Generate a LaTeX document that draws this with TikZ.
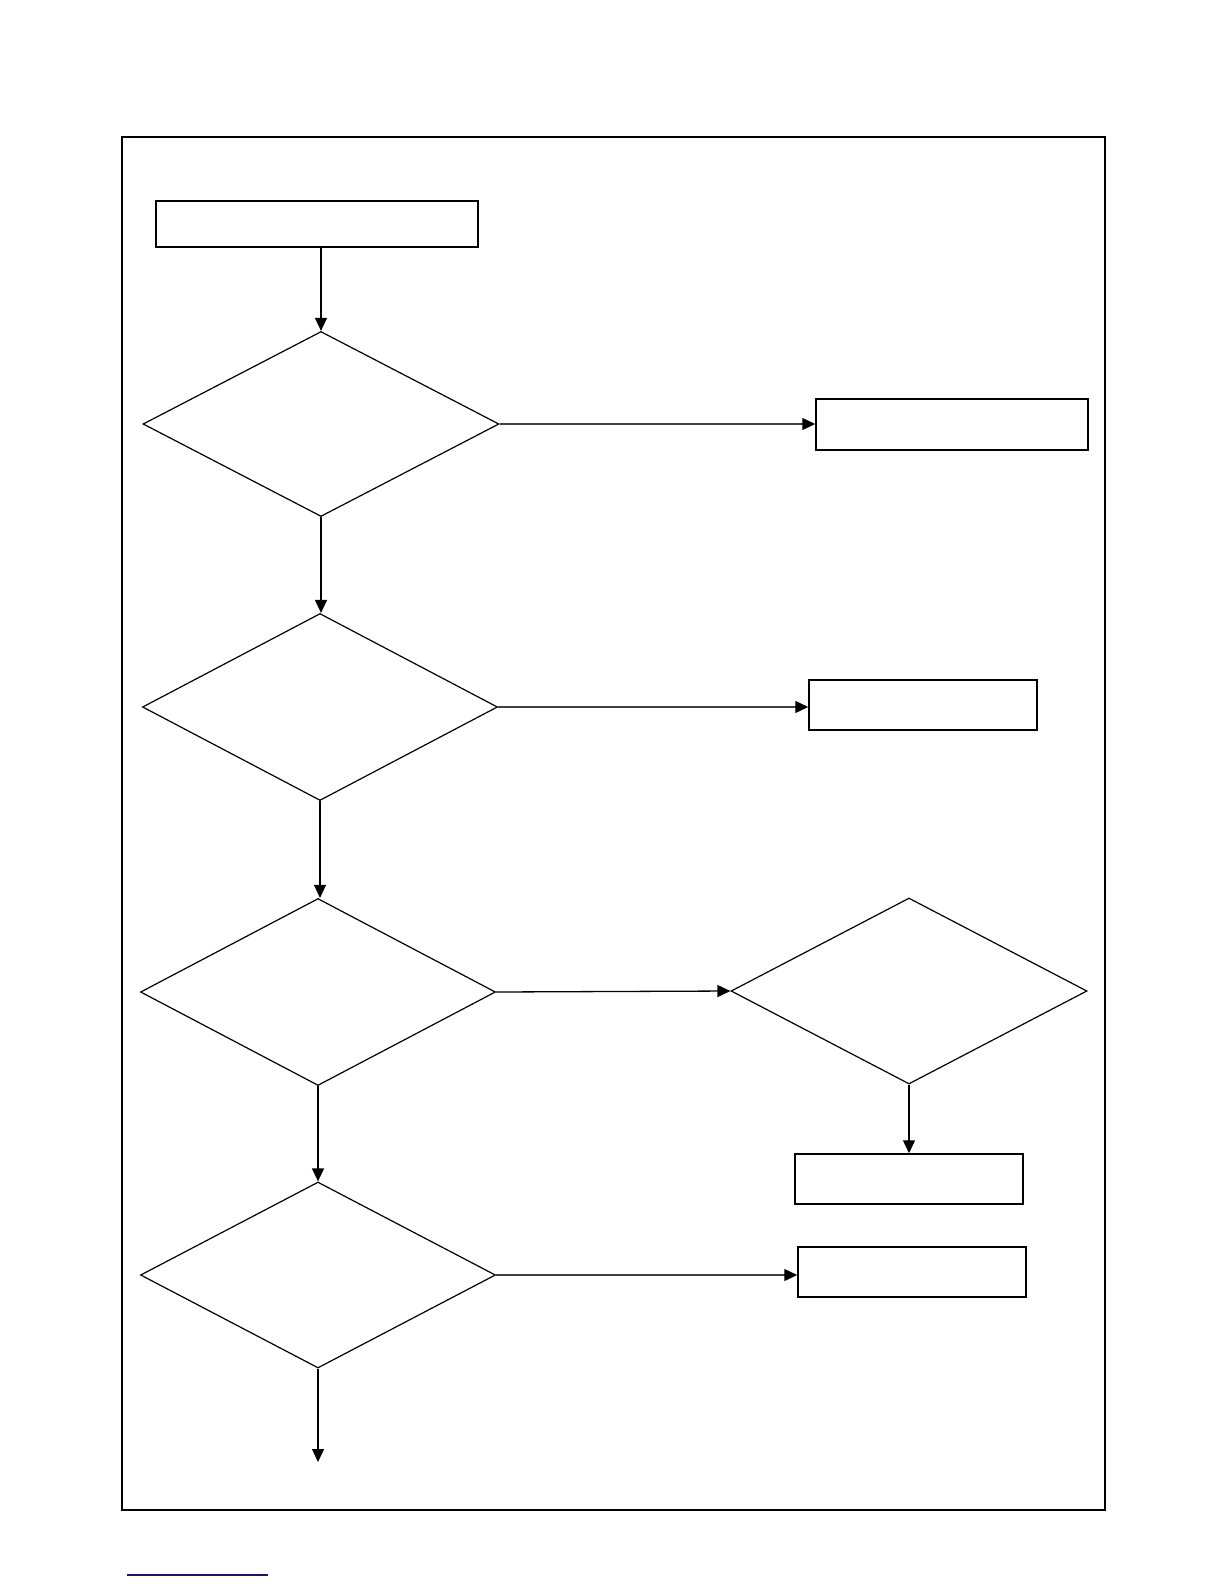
\documentclass[tikz,border=0pt]{standalone}
\usetikzlibrary{shapes.geometric,arrows.meta}
\tikzset{
  box/.style={draw=black,line width=1.5pt,rectangle,inner sep=0pt},
  dec/.style={draw=black,line width=1.2pt,diamond,inner sep=0pt},
  flow/.style={draw=black,line width=1.3pt,-{Triangle[length=13pt,width=12pt]}},
  hflow/.style={draw=black!75,line width=1.4pt,-{Triangle[length=13pt,width=12pt,color=black]}}
}
\begin{document}
\begin{tikzpicture}[x=1pt,y=-1pt]
\useasboundingbox (0,0) rectangle (1224,1584);
\draw[line width=1.6pt] (122,137) rectangle (1105,1510);
\node[box,minimum width=322pt,minimum height=46pt] (b1) at (317,224) {};
\node[dec,minimum width=356pt,minimum height=185pt] (d1) at (321,424) {};
\node[box,minimum width=272pt,minimum height=51pt] (r1) at (952,424.5) {};
\node[dec,minimum width=355pt,minimum height=187pt] (d2) at (320,707) {};
\node[box,minimum width=228pt,minimum height=50pt] (r2) at (923,705) {};
\node[dec,minimum width=355pt,minimum height=187pt] (d3) at (318,992) {};
\node[dec,minimum width=356pt,minimum height=186pt] (d4) at (909,991) {};
\node[box,minimum width=228pt,minimum height=50pt] (r4) at (909,1179) {};
\node[dec,minimum width=355pt,minimum height=186pt] (d5) at (318,1275) {};
\node[box,minimum width=228pt,minimum height=50pt] (r5) at (912,1272) {};
\coordinate (end) at (318,1462);
\draw[flow] (d1.north |- b1.south) -- (d1.north);
\draw[flow] (d1.south) -- (d1.south |- d2.north);
\draw[flow] (d2.south) -- (d2.south |- d3.north);
\draw[flow] (d3.south) -- (d5.north);
\draw[flow] (d5.south) -- (end);
\draw[flow] (d4.south) -- (r4.north);
\draw[hflow] (d1.east) -- (r1.west |- d1.east);
\draw[hflow] (d2.east) -- (r2.west |- d2.east);
\draw[flow] (d3.east) -- (d4.west);
\draw[hflow] (d5.east) -- (r5.west |- d5.east);
\draw[line width=1.5pt,draw={rgb,255:red,20;green,20;blue,120}] (127,1575) -- (268,1575);
\end{tikzpicture}
\end{document}
